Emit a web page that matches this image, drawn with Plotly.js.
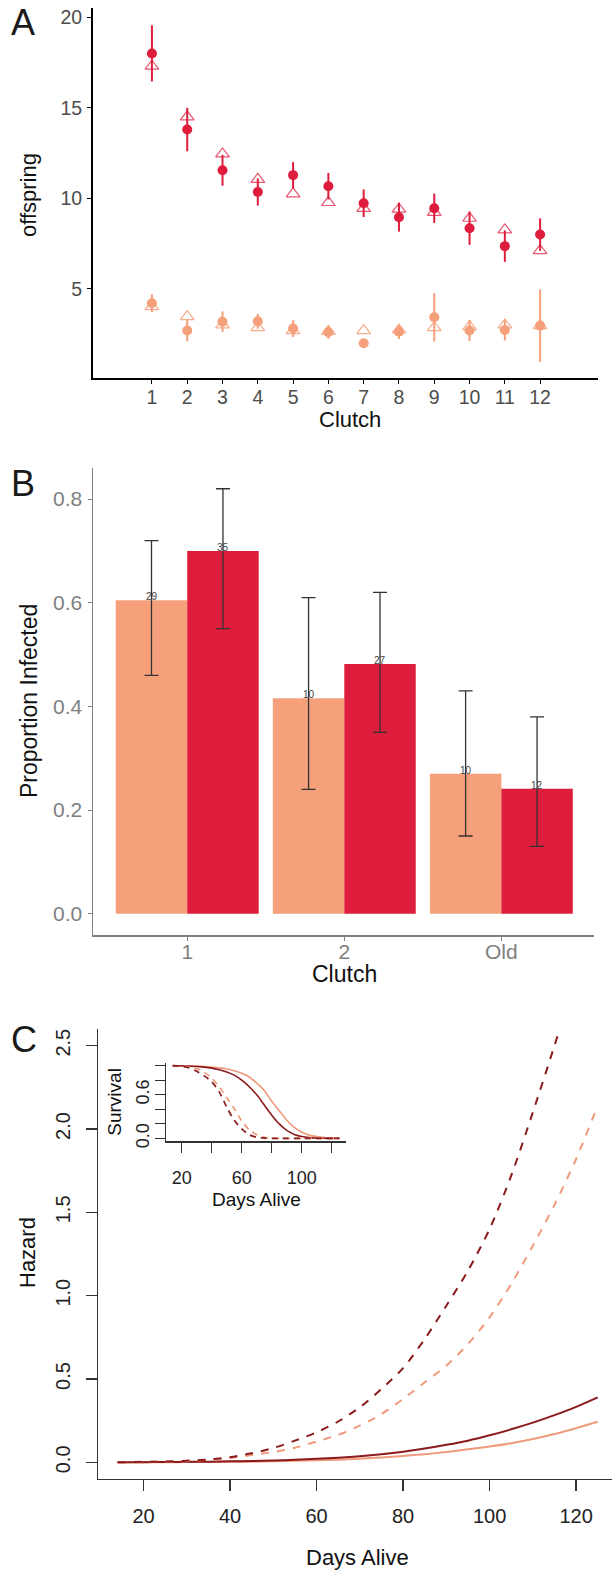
<!DOCTYPE html>
<html>
<head>
<meta charset="utf-8">
<script src="https://cdn.plot.ly/plotly-3.0.1.min.js"></script>
<style>
html,body{margin:0;padding:0;background:#fff;}
#chart{width:612px;height:1571px;}
</style>
</head>
<body>
<div id="chart"></div>
<script>
// ---------- Panel A data ----------
const clutch = [1,2,3,4,5,6,7,8,9,10,11,12];
const redMean   = [18.0, 13.8, 11.55, 10.35, 11.28, 10.67, 9.73, 8.96, 9.45, 8.35, 7.36, 8.0];
const redSE     = [1.55, 1.2, 0.85, 0.75, 0.72, 0.73, 0.76, 0.8, 0.81, 0.92, 0.87, 0.9];
const redTri    = [17.3, 14.5, 12.45, 11.05, 10.25, 9.77, 9.45, 9.4, 9.23, 8.9, 8.26, 7.11];
const salmonMean = [4.21, 2.7, 3.19, 3.21, 2.81, 2.61, 2.0, 2.64, 3.43, 2.7, 2.73, 2.97];
const salmonSE   = [0.49, 0.59, 0.57, 0.41, 0.47, 0.37, 0.15, 0.41, 1.34, 0.58, 0.58, 2.01];
const salmonTri  = [4.02, 3.47, 3.01, 2.86, 2.7, 2.65, 2.7, 2.73, 2.86, 2.92, 3.01, 2.97];

// ---------- Panel B data ----------
const groups = ['1', '2', 'Old'];
const salmonProp = [0.605, 0.416, 0.27];
const salmonHi   = [0.72, 0.61, 0.43];
const salmonLo   = [0.46, 0.24, 0.15];
const salmonN    = ['29', '10', '10'];
const redProp = [0.70, 0.482, 0.241];
const redHi   = [0.82, 0.62, 0.38];
const redLo   = [0.55, 0.35, 0.13];
const redN    = ['35', '27', '12'];

// ---------- Panel C data ----------
const days = [14,20,25,30,35,40,45,50,55,60,65,70,75,80,85,90,95,100,105,110,115,120,125];
const hazDarkDash   = [0,0.003,0.005,0.010,0.017,0.031,0.054,0.086,0.13,0.18,0.245,0.33,0.44,0.565,0.74,0.94,1.15,1.40,1.72,2.10,2.50,2.92,3.35];
const hazSalmonDash = [0,0.002,0.004,0.007,0.015,0.026,0.044,0.062,0.087,0.125,0.165,0.22,0.29,0.38,0.48,0.58,0.71,0.87,1.07,1.30,1.545,1.82,2.14];
const hazDarkSolid  = [0,0.001,0.002,0.003,0.004,0.006,0.008,0.011,0.015,0.021,0.028,0.037,0.049,0.064,0.083,0.105,0.13,0.162,0.198,0.238,0.283,0.333,0.39];
const hazSalmonSolid= [0,0.0005,0.001,0.0015,0.002,0.003,0.004,0.006,0.009,0.012,0.016,0.022,0.029,0.038,0.049,0.062,0.078,0.095,0.115,0.14,0.17,0.205,0.243];
const survDarkDash   = [1.0,0.99,0.97,0.925,0.86,0.78,0.64,0.43,0.25,0.13,0.05,0.015,0.005,0.001,0,0,0,0,0,0,0,0,0];
const survSalmonDash = [1.0,0.995,0.985,0.96,0.91,0.83,0.71,0.56,0.41,0.24,0.12,0.05,0.015,0.005,0.001,0,0,0,0,0,0,0,0];
const survDarkSolid  = [1.0,1.0,0.995,0.99,0.98,0.967,0.945,0.915,0.87,0.80,0.71,0.60,0.46,0.32,0.20,0.11,0.055,0.025,0.01,0.004,0.001,0,0];
const survSalmonSolid= [1.0,1.0,0.998,0.995,0.99,0.98,0.97,0.955,0.93,0.895,0.845,0.76,0.66,0.51,0.38,0.25,0.15,0.085,0.045,0.025,0.012,0.006,0.003];

const hazTicks = [0, 0.5, 1.0, 1.5, 2.0, 2.5];
const dayTicks = [20, 40, 60, 80, 100, 120];
const insetXLabels = ['20', '', '60', '', '100', ''];
const survTicks = [0, 0.2, 0.4, 0.6, 0.8, 1.0];
const survLabels = ['0.0', '', '', '0.6', '', ''];

// ---------- styling ----------
const RED = '#DE1D3D';
const SALMON = '#F5A07A';
const DARK = '#8B1A1C';
const LSALMON = '#EF9A7B';
const FONT = 'Liberation Sans, Arial, sans-serif';
const W = 612, H = 1571;
const fx = px => px / W;
const fy = px => 1 - px / H;
const BARW = 0.455; // width of each bar in category units

const traces = [];
// Panel A
traces.push({x: clutch, y: redTri, xaxis: 'x', yaxis: 'y', mode: 'markers', type: 'scatter',
  marker: {symbol: 'triangle-up-open', size: 12, color: 'rgba(222,29,61,0.75)', line: {width: 1.2}}});
traces.push({x: clutch, y: salmonTri, xaxis: 'x', yaxis: 'y', mode: 'markers', type: 'scatter',
  marker: {symbol: 'triangle-up-open', size: 12, color: 'rgba(244,160,122,0.85)', line: {width: 1.2}}});
traces.push({x: clutch, y: redMean, xaxis: 'x', yaxis: 'y', mode: 'markers', type: 'scatter',
  marker: {symbol: 'circle', size: 10, color: RED},
  error_y: {type: 'data', array: redSE, color: RED, thickness: 2, width: 0}});
traces.push({x: clutch, y: salmonMean, xaxis: 'x', yaxis: 'y', mode: 'markers', type: 'scatter',
  marker: {symbol: 'circle', size: 10, color: SALMON},
  error_y: {type: 'data', array: salmonSE, color: SALMON, thickness: 2, width: 0}});

// Panel B
function barTrace(vals, hi, lo, color) {
  return {type: 'bar', x: groups, y: vals, xaxis: 'x2', yaxis: 'y2', marker: {color: color, line: {width: 0}},
    error_y: {type: 'data', symmetric: false, array: hi.map((h, i) => h - vals[i]),
      arrayminus: lo.map((l, i) => vals[i] - l), color: '#333', thickness: 1.3, width: 7}};
}
traces.push(barTrace(salmonProp, salmonHi, salmonLo, SALMON));
traces.push(barTrace(redProp, redHi, redLo, RED));

// Panel C main
function line(xs, ys, xa, ya, color, dash, w) {
  return {type: 'scatter', mode: 'lines', x: xs, y: ys, xaxis: xa, yaxis: ya,
    line: {color: color, dash: dash, width: w, shape: 'spline', smoothing: 0.8}};
}
traces.push(line(days, hazSalmonSolid, 'x3', 'y3', LSALMON, 'solid', 2));
traces.push(line(days, hazDarkSolid, 'x3', 'y3', DARK, 'solid', 2));
traces.push(line(days, hazSalmonDash, 'x3', 'y3', LSALMON, '8px,8px', 2));
traces.push(line(days, hazDarkDash, 'x3', 'y3', DARK, '8px,8px', 2));
// Inset
traces.push(line(days, survSalmonSolid, 'x4', 'y4', LSALMON, 'solid', 1.6));
traces.push(line(days, survDarkSolid, 'x4', 'y4', DARK, 'solid', 1.6));
traces.push(line(days, survSalmonDash, 'x4', 'y4', LSALMON, '6px,5px', 1.7));
traces.push(line(days, survDarkDash, 'x4', 'y4', DARK, '6px,5px', 1.7));

const baseAx = {showgrid: false, zeroline: false, showline: true, ticks: 'outside', fixedrange: true};

const layout = {
  width: W, height: H, margin: {l: 0, r: 0, t: 0, b: 0},
  paper_bgcolor: '#fff', plot_bgcolor: 'rgba(0,0,0,0)',
  showlegend: false, font: {family: FONT},
  barmode: 'group', bargap: 0.09, bargroupgap: 0,
  xaxis: Object.assign({}, baseAx, {domain: [fx(93), fx(598)], anchor: 'y', range: [-0.67, 13.64],
    tickvals: clutch, linecolor: '#000', linewidth: 2, ticklen: 4, tickcolor: '#000', tickwidth: 1,
    tickfont: {size: 19.5, color: '#4D4D4D'}, ticklabelstandoff: -3}),
  yaxis: Object.assign({}, baseAx, {domain: [fy(378), fy(8)], anchor: 'x', range: [0.08, 20.51],
    tickvals: [5, 10, 15, 20], linecolor: '#000', linewidth: 2, ticklen: 4, tickcolor: '#000', tickwidth: 1,
    tickfont: {size: 19.5, color: '#4D4D4D'}, ticklabelstandoff: 1}),
  xaxis2: Object.assign({}, baseAx, {domain: [fx(93), fx(594)], anchor: 'y2', type: 'category',
    categoryorder: 'array', categoryarray: groups, range: [-0.6, 2.59],
    linecolor: '#808080', linewidth: 1.5, ticklen: 4, tickcolor: '#808080',
    tickfont: {size: 21, color: '#7F7F7F'}, ticklabelstandoff: -7}),
  yaxis2: Object.assign({}, baseAx, {domain: [fy(935), fy(468)], anchor: 'x2', range: [-0.041, 0.86],
    tickvals: [0, 0.2, 0.4, 0.6, 0.8], tickformat: '.1f',
    linecolor: '#808080', linewidth: 1.5, ticklen: 4, tickcolor: '#808080',
    tickfont: {size: 21, color: '#7F7F7F'}, ticklabelstandoff: 1}),
  xaxis3: Object.assign({}, baseAx, {domain: [fx(98.4), 1], anchor: 'y3', range: [9.56, 128.3],
    tickvals: dayTicks, linecolor: '#333', linewidth: 1.2, ticklen: 11, tickcolor: '#333', tickwidth: 1.2,
    tickfont: {size: 20, color: '#222'}, ticklabelstandoff: 8}),
  yaxis3: Object.assign({}, baseAx, {domain: [fy(1479), fy(1029)], anchor: 'x3', range: [-0.1, 2.6],
    tickvals: hazTicks, tickformat: '.1f', tickangle: -90,
    linecolor: '#333', linewidth: 1.2, ticklen: 11, tickcolor: '#333', tickwidth: 1.2,
    tickfont: {size: 20, color: '#222'}, ticklabelstandoff: 8}),
  xaxis4: Object.assign({}, baseAx, {domain: [fx(166), fx(346)], anchor: 'y4', range: [9.56, 129.44],
    tickvals: dayTicks, ticktext: insetXLabels, linecolor: '#333', linewidth: 1.2, ticklen: 10, tickcolor: '#333', tickwidth: 1.2,
    tickfont: {size: 18, color: '#222'}, ticklabelstandoff: 10}),
  yaxis4: Object.assign({}, baseAx, {domain: [fy(1141.3), fy(1062.8)], anchor: 'x4', range: [-0.04, 1.04],
    tickvals: survTicks, ticktext: survLabels, tickangle: -90,
    linecolor: '#333', linewidth: 1.2, ticklen: 10, tickcolor: '#333', tickwidth: 1.2,
    tickfont: {size: 18, color: '#222'}, ticklabelstandoff: -1}),
  annotations: []
};

// sample-size labels just above each bar
groups.forEach((g, i) => {
  [[salmonProp, salmonN, -BARW / 2], [redProp, redN, BARW / 2]].forEach(([vals, n, off]) => {
    layout.annotations.push({text: n[i], xref: 'x2', yref: 'y2', x: i + off, y: vals[i],
      xanchor: 'center', yanchor: 'bottom', yshift: -4, showarrow: false,
      font: {size: 10, color: '#444', family: FONT}});
  });
});

function ann(text, x, y, size, angle, color) {
  layout.annotations.push({text: text, x: fx(x), y: fy(y), xref: 'paper', yref: 'paper',
    xanchor: 'center', yanchor: 'middle', showarrow: false, textangle: angle || 0,
    font: {size: size, color: color || '#111', family: FONT}});
}
ann('A', 22.5, 23, 36, 0, '#1a1a1a');
ann('offspring', 28, 195, 22, -90);
ann('Clutch', 350, 419, 22);
ann('B', 23, 483.5, 36, 0, '#1a1a1a');
ann('Proportion Infected', 29, 701, 23, -90);
ann('Clutch', 344.5, 974, 23);
ann('C', 23.5, 1039, 36, 0, '#1a1a1a');
ann('Hazard', 27, 1253, 22, -90);
ann('Days Alive', 357, 1557, 22);
ann('Survival', 115, 1101.7, 19, -90);
ann('Days Alive', 256.6, 1199, 19);

Plotly.newPlot('chart', traces, layout, {displayModeBar: false, staticPlot: true});
</script>
</body>
</html>
